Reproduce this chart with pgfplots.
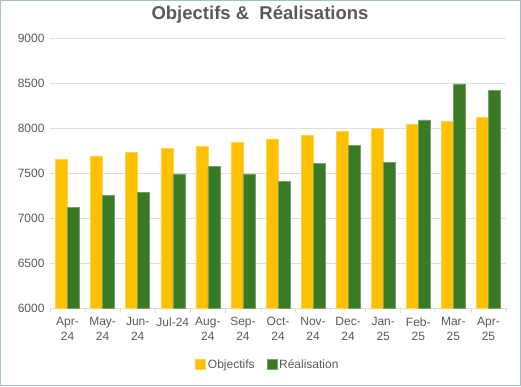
\documentclass[border=0pt]{standalone}
\usepackage{pgfplots}
\pgfplotsset{compat=1.18}
\usepackage{fontspec}
\setmainfont{Liberation Sans}
\definecolor{txt}{HTML}{595959}
\definecolor{gridc}{HTML}{DEDEDE}
\definecolor{obj}{HTML}{FFC000}
\definecolor{real}{HTML}{3B7A25}
\definecolor{frame}{HTML}{A6BDCB}
\begin{document}
\begin{tikzpicture}[x=1pt,y=1pt]
\useasboundingbox (0,0) rectangle (521,386);
\draw[frame,line width=1pt] (0.5,0.5) rectangle (520.5,385.5);
\node[font=\fontsize{18.5}{20}\selectfont\bfseries,text=txt] at (260,371) {Objectifs \&\ \ Réalisations};
\begin{axis}[
  at={(50pt,78pt)}, anchor=south west,
  scale only axis, width=456pt, height=270pt,
  ybar=0pt, bar width=12pt,
  xmin=-0.5, xmax=12.5, ymin=6000, ymax=9000,
  ytick={6000,6500,...,9000},
  xtick={0,...,12},
  xticklabels={{Apr-\\24},{May-\\24},{Jun-\\24},{Jul-24},{Aug-\\24},{Sep-\\24},{Oct-\\24},{Nov-\\24},{Dec-\\24},{Jan-\\25},{Feb-\\25},{Mar-\\25},{Apr-\\25}},
  minor xtick={-0.5,0.5,...,12.5},
  major tick length=0pt, minor tick length=5pt, tick align=outside,
  minor tick style={gridc, line width=0.8pt},
  axis x line*=bottom, axis y line*=left,
  axis line style={-},
  x axis line style={gridc, line width=1pt},
  y axis line style={draw=none},
  ymajorgrids, grid style={gridc, line width=1pt},
  tick label style={font=\fontsize{12}{14.5}\selectfont, text=txt},
  xticklabel style={align=center, yshift=-6pt},
  yticklabel style={xshift=-2pt},
  /pgf/number format/assume math mode=true,
  yticklabel={\pgfmathprintnumber[fixed,1000 sep={}]{\tick}},
  legend columns=2,
  legend style={at={(0.478,-0.21)}, anchor=center, draw=none, fill=none,
    font=\fontsize{12}{14}\selectfont, text=txt,
    /tikz/every even column/.append style={column sep=10pt}},
  legend image code/.code={\fill[#1] (0pt,-4.5pt) rectangle (10pt,5pt);},
]
\addplot[fill=obj, draw=obj!70!white, line width=0.5pt] coordinates {
(0,7650) (1,7690) (2,7730) (3,7770) (4,7800) (5,7840) (6,7880) (7,7920) (8,7960) (9,8000) (10,8040) (11,8080) (12,8120)};
\addplot[fill=real, draw=real!70!white, line width=0.5pt] coordinates {
(0,7120) (1,7250) (2,7285) (3,7490) (4,7575) (5,7490) (6,7410) (7,7610) (8,7810) (9,7620) (10,8090) (11,8490) (12,8420)};
\legend{Objectifs,Réalisation}
\end{axis}
\end{tikzpicture}
\end{document}
